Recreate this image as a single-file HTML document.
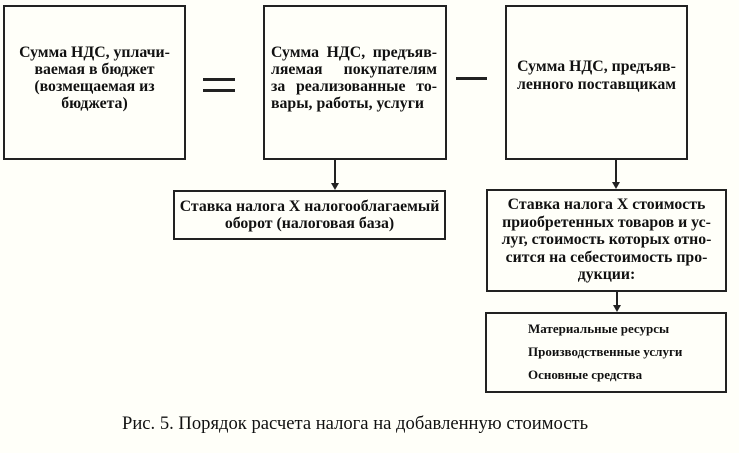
<!DOCTYPE html>
<html><head><meta charset="utf-8"><style>
body{margin:0;width:739px;height:453px;background:#fffff9;position:relative;overflow:hidden;font-family:"Liberation Serif",serif;color:#111}
.b{position:absolute;border:2px solid #222;box-sizing:border-box;font-weight:bold;font-size:15.8px;line-height:17px}
.t{position:absolute;left:0;right:0;text-align:center;white-space:nowrap}
.v{position:absolute;width:2px;background:#222}
.ah{position:absolute;width:0;height:0;border-left:4px solid transparent;border-right:4px solid transparent;border-top:7px solid #222}
.h{position:absolute;height:3px;background:#222}
.j{text-align:justify;text-align-last:justify;white-space:normal}
</style></head><body>
<div class="b" style="left:3px;top:5px;width:183px;height:155px"><div class="t" style="top:37px">Сумма НДС, уплачи-<br>ваемая в бюджет<br>(возмещаемая из<br>бюджета)</div></div>
<div class="h" style="left:203px;top:78px;width:32px"></div>
<div class="h" style="left:203px;top:89px;width:32px"></div>
<div class="b" style="left:263px;top:5px;width:184px;height:155px"><div style="position:absolute;left:6px;right:8px;top:37px">
<div class="j">Сумма НДС, предъяв-</div><div class="j">ляемая покупателям</div><div class="j">за реализованные то-</div><div>вары, работы, услуги</div></div></div>
<div class="h" style="left:456px;top:77px;width:31px"></div>
<div class="b" style="left:505px;top:5px;width:183px;height:155px"><div class="t" style="top:51px;line-height:18px">Сумма НДС, предъяв-<br>ленного поставщикам</div></div>
<div class="v" style="left:334px;top:160px;height:24px"></div><div class="ah" style="left:331px;top:183px"></div>
<div class="b" style="left:173px;top:190px;width:273px;height:50px"><div class="t" style="top:6px">Ставка налога Х налогооблагаемый<br>оборот (налоговая база)</div></div>
<div class="v" style="left:615px;top:160px;height:23px"></div><div class="ah" style="left:612px;top:182px"></div>
<div class="b" style="left:486px;top:189px;width:241px;height:103px;line-height:17.5px"><div class="t" style="top:5px">Ставка налога Х стоимость<br>приобретенных товаров и ус-<br>луг, стоимость которых отно-<br>сится на себестоимость про-<br>дукции:</div></div>
<div class="v" style="left:616px;top:292px;height:14px"></div><div class="ah" style="left:613px;top:305px"></div>
<div class="b" style="left:485px;top:312px;width:242px;height:81px;font-size:13px;line-height:23px"><div style="position:absolute;left:41px;top:3px;white-space:nowrap">Материальные ресурсы<br>Производственные услуги<br>Основные средства</div></div>
<div style="position:absolute;left:122px;top:413px;font-size:18.6px;white-space:nowrap">Рис. 5. Порядок расчета налога на добавленную стоимость</div>
</body></html>
